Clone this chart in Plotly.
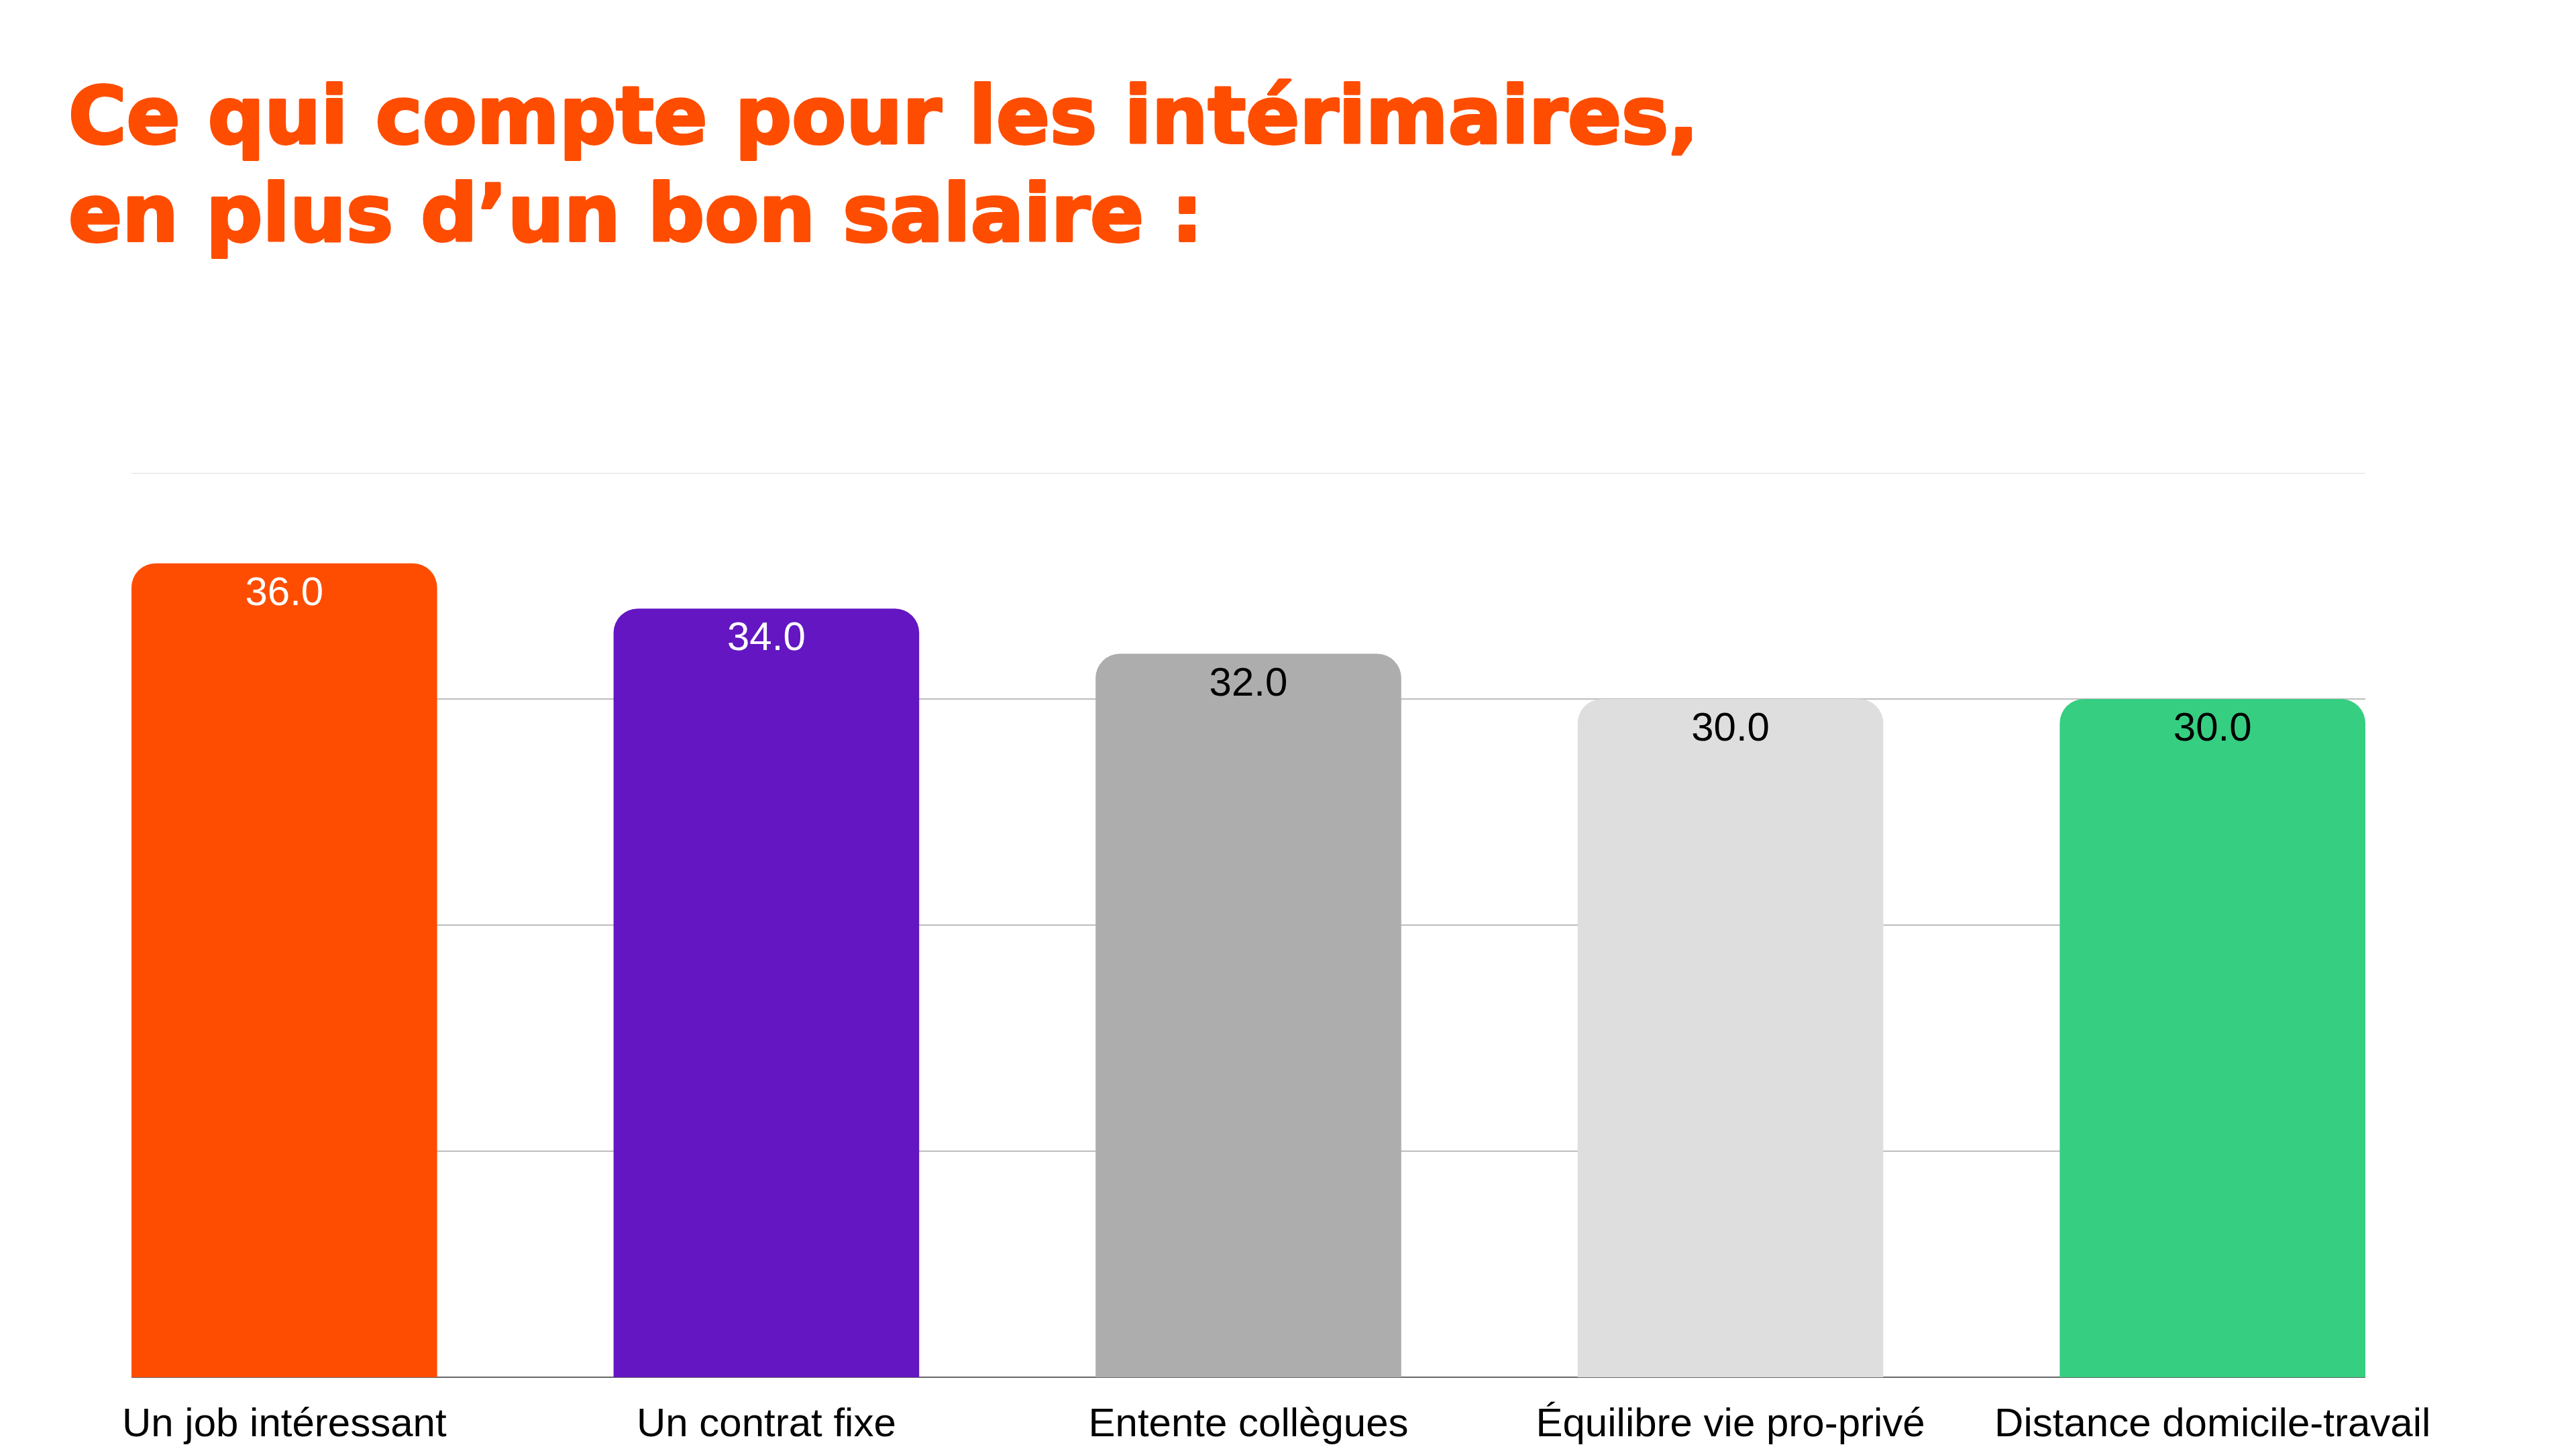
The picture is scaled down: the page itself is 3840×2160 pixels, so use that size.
import plotly.graph_objects as go

categories = ["Un job intéressant", "Un contrat fixe", "Entente collègues",
              "Équilibre vie pro-privé", "Distance domicile-travail"]
values = [36.0, 34.0, 32.0, 30.0, 30.0]
bar_colors = ["#FE4D01", "#6316C1", "#ADADAD", "#DEDEDE", "#36CE81"]
text_colors = ["#FFFFFF", "#FFFFFF", "#000000", "#000000", "#000000"]
title_lines = ["Ce qui compte pour les intérimaires,", "en plus d’un bon salaire :"]

W, H = 3840, 2160
L, R, T, B = 196, 314, 705, 107
plot_h = H - T - B

fig = go.Figure()
fig.add_trace(go.Bar(
    x=categories, y=values,
    marker=dict(color=bar_colors, cornerradius=36, line=dict(width=0)),
    hoverinfo="skip",
))
fig.add_trace(go.Scatter(
    x=categories, y=values, mode="markers+text",
    marker=dict(size=26, opacity=0),
    text=[f"{v:.1f}" for v in values], textposition="bottom center",
    textfont=dict(family="Liberation Sans, Arial, sans-serif", size=60, color=text_colors),
    cliponaxis=False, hoverinfo="skip",
))

def py(Y):
    return (H - B - Y) / plot_h

span_style = "font-size:118px;stroke:#FE4D01;stroke-width:4px;stroke-linejoin:round"
title_text = "<br>".join(
    '<span style="' + span_style + '"><b>' + line + "</b></span>" for line in title_lines)

fig.update_layout(
    width=W, height=H,
    margin=dict(l=L, r=R, t=T, b=B, pad=0),
    paper_bgcolor="white", plot_bgcolor="white",
    bargap=0.366, showlegend=False,
    annotations=[dict(
        text=title_text, xref="paper", yref="paper",
        x=(100 - L) / (W - L - R), y=py(245), align="left",
        xanchor="left", yanchor="middle", showarrow=False,
        font=dict(family="DejaVu Sans, sans-serif", size=112.3, color="#FE4D01"),
    )],
    shapes=[dict(type="line", xref="paper", yref="y", x0=0, x1=1, y0=40, y1=40,
                 line=dict(color="#DDDDDD", width=2), layer="above")],
    xaxis=dict(range=[-0.317, 4.317], showgrid=False, zeroline=False,
               showline=False, ticks="", automargin=False,
               tickfont=dict(family="Liberation Sans, Arial, sans-serif", size=60, color="#000000"),
               ticklabelstandoff=27),
    yaxis=dict(range=[0, 40], tickvals=[10, 20, 30, 40], showticklabels=False,
               automargin=False,
               gridcolor="#BDBDBD", gridwidth=2, zeroline=True, zerolinecolor="#666666",
               zerolinewidth=2, showline=False, ticks=""),
)

fig.write_html("out.html")
